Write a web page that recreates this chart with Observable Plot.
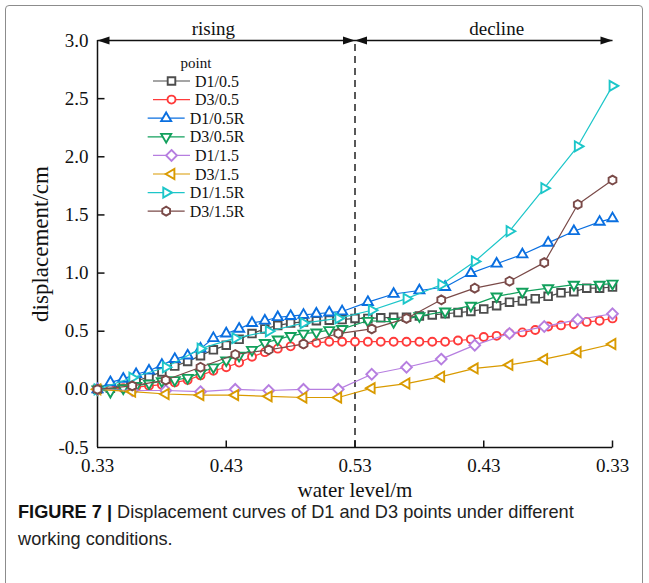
<!DOCTYPE html>
<html><head><meta charset="utf-8">
<script src="https://cdn.jsdelivr.net/npm/d3@7"></script>
<script src="https://cdn.jsdelivr.net/npm/@observablehq/plot@0.6"></script>
<style>
body{margin:0;background:#fff;}
#wrap{position:relative;width:649px;height:583px;overflow:hidden;background:#fff;}
#border{position:absolute;left:5px;top:5px;width:636px;height:640px;border:1.5px solid #8c8c8c;border-radius:4px;}
#chart{position:absolute;left:0;top:0;}
#legend{position:absolute;left:0;top:0;pointer-events:none;}
#caption{position:absolute;left:18px;top:499px;width:625px;font-family:"Liberation Sans",Arial,sans-serif;font-size:18.2px;line-height:27px;color:#222;}
#caption b{font-weight:bold;color:#111;}
</style></head><body>
<div id="wrap"><div id="border"></div><div id="chart"></div><svg id="legend" width="649" height="583"></svg>
<div id="caption"><b>FIGURE 7 |</b> Displacement curves of D1 and D3 points under different<br>working conditions.</div></div>
<script>
// ---- data ----
const xTickPos = [0, 1, 2, 3, 4];
const xTickLabels = ["0.33", "0.43", "0.53", "0.43", "0.33"];
const yTicks = [-0.5, 0, 0.5, 1.0, 1.5, 2.0, 2.5, 3.0];
const yInnerTicks = [0, 0.5, 1.0, 1.5, 2.0, 2.5];
const phases = [
  {label: "rising", from: 0, to: 2, labelAt: 0.9},
  {label: "decline", from: 2, to: 4, labelAt: 3.1}
];
const boundary = [2];
const seriesNames = ["D1/0.5", "D3/0.5", "D1/0.5R", "D3/0.5R", "D1/1.5", "D3/1.5", "D1/1.5R", "D3/1.5R"];
const seriesColors = ["#4d4d4d", "#ff3b3b", "#0a6fe0", "#12a05c", "#b67ee0", "#d99a00", "#1cc6c9", "#7a4a48"];

const xFine = [0,0.1,0.2,0.3,0.4,0.5,0.6,0.7,0.8,0.9,1.0,1.1,1.2,1.3,1.4,1.5,1.6,1.7,1.8,1.9,2.0,
  2.1,2.2,2.3,2.4,2.5,2.6,2.7,2.8,2.9,3.0,3.1,3.2,3.3,3.4,3.5,3.6,3.7,3.8,3.9,4.0];
const xR = [0,0.1,0.2,0.3,0.4,0.5,0.6,0.7,0.8,0.9,1.0,1.1,1.2,1.3,1.4,1.5,1.6,1.7,1.8,1.9,
  2.1,2.3,2.5,2.7,2.9,3.1,3.3,3.5,3.7,3.9,4.0];
const xCoarse = [0,0.27,0.53,0.8,1.07,1.33,1.6,1.87,2.13,2.4,2.67,2.93,3.2,3.47,3.73,4.0];

const D1_05 = [0,0.01,0.04,0.07,0.11,0.15,0.20,0.24,0.29,0.34,0.38,0.43,0.48,0.52,0.55,0.57,0.58,0.59,0.595,0.60,0.61,
  0.61,0.615,0.62,0.62,0.63,0.64,0.65,0.66,0.67,0.69,0.72,0.75,0.76,0.78,0.80,0.83,0.84,0.87,0.87,0.88];
const D3_05 = [0,0.0,0.01,0.02,0.03,0.04,0.06,0.08,0.12,0.16,0.19,0.23,0.28,0.32,0.35,0.37,0.39,0.40,0.41,0.41,0.41,
  0.41,0.41,0.41,0.41,0.41,0.41,0.41,0.42,0.43,0.45,0.46,0.48,0.49,0.51,0.54,0.55,0.56,0.58,0.59,0.61];
const D1_05R = [0,0.06,0.09,0.13,0.16,0.21,0.26,0.29,0.35,0.44,0.48,0.52,0.57,0.59,0.62,0.63,0.64,0.65,0.66,0.67,
  0.75,0.82,0.85,0.88,1.00,1.08,1.16,1.26,1.36,1.44,1.47];
const D3_05R = [0,-0.02,0.01,0.03,0.05,0.07,0.08,0.10,0.14,0.19,0.25,0.29,0.34,0.40,0.43,0.46,0.48,0.49,0.51,0.52,
  0.59,0.58,0.63,0.67,0.72,0.80,0.84,0.87,0.90,0.90,0.91];
const D1_15 = [0,-0.01,-0.01,-0.02,0.0,-0.01,0.0,0.0,0.13,0.19,0.26,0.38,0.48,0.54,0.60,0.65];
const D3_15 = [0,-0.02,-0.04,-0.05,-0.05,-0.06,-0.07,-0.07,0.01,0.05,0.11,0.18,0.21,0.26,0.32,0.39];
const D1_15R = [0,0.10,0.19,0.35,0.44,0.50,0.57,0.61,0.68,0.78,0.90,1.10,1.36,1.73,2.09,2.61];
const D3_15R = [0,0.03,0.08,0.19,0.30,0.34,0.39,0.48,0.52,0.61,0.77,0.87,0.93,1.09,1.59,1.80];

// ---- symbols ----
function poly(ctx, pts){ pts.forEach(([x,y],i)=> i ? ctx.lineTo(x,y) : ctx.moveTo(x,y)); ctx.closePath(); }
const R = s => Math.sqrt(s / Math.PI);
function tri(deg){ return {draw(ctx, size){ const r = R(size)*1.45; poly(ctx, [0,1,2].map(i=>{const a=(deg+120*i)*Math.PI/180; return [r*Math.cos(a), r*Math.sin(a)];})); }}; }
const symSquare = {draw(ctx,size){const h=R(size)*0.95; poly(ctx,[[-h,-h],[h,-h],[h,h],[-h,h]]);}};
const symCircle = {draw(ctx,size){const r=R(size); ctx.moveTo(r,0); ctx.arc(0,0,r,0,2*Math.PI);}};
const symDiamond = {draw(ctx,size){const h=R(size)*1.35; poly(ctx,[[0,-h],[h,0],[0,h],[-h,0]]);}};
const symHex = {draw(ctx,size){const r=R(size)*1.12; poly(ctx,[0,1,2,3,4,5].map(i=>{const a=(90+60*i)*Math.PI/180; return [r*Math.cos(a), r*Math.sin(a)];}));}};
const seriesSymbols = [symSquare, symCircle, tri(-90), tri(90), symDiamond, tri(180), tri(0), symHex];
const tickUp = {draw(ctx){ctx.moveTo(0,0); ctx.lineTo(0,-7);}};
const tickRight = {draw(ctx){ctx.moveTo(0,0); ctx.lineTo(7,0);}};
const headRight = {draw(ctx){poly(ctx,[[0,0],[-12,-4],[-12,4]]);}};
const headLeft = {draw(ctx){poly(ctx,[[0,0],[12,-4],[12,4]]);}};

const seriesX = [xFine, xFine, xR, xR, xCoarse, xCoarse, xCoarse, xCoarse];
const seriesY = [D1_05, D3_05, D1_05R, D3_05R, D1_15, D3_15, D1_15R, D3_15R];
const series = seriesNames.map((name,k)=>({name, color: seriesColors[k], symbol: seriesSymbols[k],
  data: seriesX[k].map((x,i)=>({x, y: seriesY[k][i]}))}));

const xDom = [xTickPos[0], xTickPos[xTickPos.length-1]];
const yDom = [yTicks[0], yTicks[yTicks.length-1]];
const ink = "#111";
const marks = [];
marks.push(Plot.ruleX(boundary, {y1: yDom[0], y2: yDom[1], stroke: "#222", strokeWidth: 1.5, strokeDasharray: "7,5"}));
marks.push(Plot.ruleX([xDom[0]], {y1: yDom[0], y2: yDom[1], stroke: ink, strokeWidth: 1.5}));
marks.push(Plot.ruleY([yDom[0]], {x1: xDom[0], x2: xDom[1], stroke: ink, strokeWidth: 1.5}));
marks.push(Plot.dot(xTickPos.slice(1), {x: d=>d, y: ()=>yDom[0], symbol: tickUp, stroke: ink, strokeWidth: 1.5, fill: "none"}));
marks.push(Plot.dot(yInnerTicks, {x: ()=>xDom[0], y: d=>d, symbol: tickRight, stroke: ink, strokeWidth: 1.5, fill: "none"}));
marks.push(Plot.link(phases, {x1: "from", x2: "to", y1: ()=>yDom[1], y2: ()=>yDom[1], stroke: ink, strokeWidth: 1.5}));
marks.push(Plot.dot(phases, {x: "to", y: ()=>yDom[1], symbol: headRight, fill: ink, stroke: "none"}));
marks.push(Plot.dot(phases, {x: "from", y: ()=>yDom[1], symbol: headLeft, fill: ink, stroke: "none"}));
marks.push(Plot.text(phases, {x: "labelAt", y: ()=>yDom[1], text: "label", dy: -12, fontSize: 19, fill: ink}));
series.forEach(s => {
  marks.push(Plot.line(s.data, {x: "x", y: "y", stroke: s.color, strokeWidth: 1.2}));
  marks.push(Plot.dot(s.data, {x: "x", y: "y", symbol: s.symbol, r: 4, stroke: s.color, strokeWidth: 1.9, fill: "white"}));
});
marks.push(Plot.text(["displacement/cm"], {frameAnchor: "left", textAnchor: "middle", lineAnchor: "middle", rotate: -90, dx: -57, fontSize: 23, fill: ink}));
marks.push(Plot.text(["water level/m"], {frameAnchor: "bottom", textAnchor: "middle", lineAnchor: "middle", dy: 43, fontSize: 21, fill: ink}));

const chart = Plot.plot({
  width: 649, height: 500,
  marginLeft: 97, marginRight: 37, marginTop: 40, marginBottom: 53,
  style: {fontFamily: "'Liberation Serif','Times New Roman',serif", fontSize: "19px", color: ink, background: "transparent", overflow: "visible"},
  x: {domain: xDom, ticks: xTickPos, tickFormat: d => xTickLabels[xTickPos.indexOf(d)], tickSize: 0, tickPadding: 11, label: null},
  y: {domain: yDom, ticks: yTicks, tickFormat: d => d.toFixed(1), tickSize: 0, tickPadding: 9, label: null},
  marks
});
document.getElementById("chart").appendChild(chart);

// ---- legend (overlay) ----
const lg = d3.select("#legend");
const cx = 196, y0 = 81, dy = 18.6;
lg.append("text").attr("x", cx).attr("y", y0 - dy).attr("dy", "0.35em").attr("text-anchor", "middle")
  .style("font-family", "'Liberation Serif','Times New Roman',serif").style("font-size", "15px").attr("fill", ink).text("point");
series.forEach((s, i) => {
  const g = lg.append("g");
  const t = g.append("text").attr("x", 42).attr("y", 0).attr("dy", "0.35em")
    .style("font-family", "'Liberation Serif','Times New Roman',serif").style("font-size", "16px").attr("fill", ink).text(s.name);
  g.append("line").attr("x1", 0).attr("x2", 37).attr("y1", 0).attr("y2", 0).attr("stroke", s.color).attr("stroke-width", 1.2);
  g.append("path").attr("transform", "translate(18.5,0)").attr("d", d3.symbol(s.symbol, Math.PI * 16)())
    .attr("fill", "white").attr("stroke", s.color).attr("stroke-width", 1.9);
  const w = 42 + t.node().getComputedTextLength();
  g.attr("transform", `translate(${cx - w / 2},${y0 + i * dy})`);
});
</script>
</body></html>
